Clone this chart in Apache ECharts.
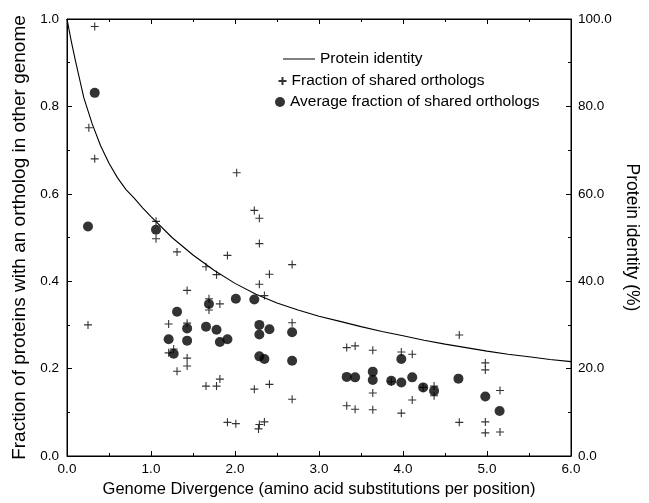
<!DOCTYPE html>
<html>
<head>
<meta charset="utf-8">
<script src="https://cdn.jsdelivr.net/npm/echarts@6/dist/echarts.min.js"></script>
<style>html,body{margin:0;background:#fff}</style>
</head>
<body>
<div id="main" style="width:649px;height:503px"></div>
<script>
// protein identity curve (divergence, %)
const curveDiv = [0, 0.05, 0.1, 0.2, 0.3, 0.4, 0.5, 0.6, 0.7, 0.8, 0.9, 1.0,
  1.25, 1.5, 1.75, 2.0, 2.25, 2.5, 2.75, 3.0, 3.25, 3.5, 3.75, 4.0,
  4.25, 4.5, 4.75, 5.0, 5.25, 5.5, 5.75, 6.0];
const curveIdentity = [100, 95, 90.5, 82, 76, 71, 67, 63.7, 61, 59, 56.8, 54.8,
  50, 46, 42.5, 39.5, 37, 35, 33.4, 32, 30.8, 29.6, 28.5, 27.5,
  26.5, 25.6, 24.8, 24, 23.3, 22.7, 22.1, 21.6];

// fraction of shared orthologs (crosses)
const crossDiv = [0.33, 0.26, 0.33, 0.25, 1.06, 1.06,
  1.31, 1.21, 1.21, 1.27, 1.31, 1.43, 1.43, 1.43, 1.43,
  1.655, 1.69, 1.69, 1.655, 1.78, 1.82, 1.82, 1.78,
  1.91, 1.91, 2.01, 2.02, 2.23, 2.29, 2.29, 2.29, 2.35, 2.41, 2.41, 2.23, 2.35, 2.29, 2.28,
  2.68, 2.68, 2.68,
  3.33, 3.43, 3.64, 3.98, 4.11, 4.67, 4.98, 4.98,
  3.86, 4.24, 4.37, 4.37, 5.155, 3.64, 4.11,
  3.33, 3.43, 3.64, 3.98, 4.67, 4.98, 4.98, 5.155];
const crossFrac = [0.983, 0.751, 0.680, 0.300, 0.537, 0.497,
  0.467, 0.302, 0.236, 0.245, 0.194, 0.379, 0.304, 0.224, 0.206,
  0.433, 0.360, 0.334, 0.160, 0.415, 0.348, 0.176, 0.160,
  0.459, 0.077, 0.074, 0.648, 0.562, 0.544, 0.486, 0.393, 0.367, 0.416, 0.164, 0.153, 0.078, 0.072, 0.062,
  0.438, 0.305, 0.130,
  0.248, 0.252, 0.242, 0.238, 0.233, 0.277, 0.213, 0.197,
  0.170, 0.157, 0.160, 0.138, 0.150, 0.144, 0.128,
  0.115, 0.107, 0.106, 0.098, 0.077, 0.078, 0.053, 0.055];

// average fraction of shared orthologs (dots)
const avgDiv = [0.33, 0.25, 1.06,
  1.31, 1.21, 1.27, 1.43, 1.43,
  1.69, 1.655, 1.78, 1.82, 1.91,
  2.01, 2.23, 2.29, 2.29, 2.41, 2.29, 2.35,
  2.68, 2.68,
  3.33, 3.43, 3.64, 3.64, 3.86, 3.98, 3.98, 4.11, 4.24, 4.37, 4.66, 4.98, 5.15];
const avgFrac = [0.831, 0.525, 0.518,
  0.330, 0.267, 0.234, 0.292, 0.264,
  0.348, 0.296, 0.289, 0.261, 0.267,
  0.360, 0.358, 0.300, 0.278, 0.290, 0.228, 0.222,
  0.283, 0.218,
  0.181, 0.180, 0.193, 0.174, 0.172, 0.222, 0.168, 0.180, 0.157, 0.149, 0.177, 0.136, 0.103];

const font = 'Liberation Sans, Arial, sans-serif';
const zip = (a, b) => a.map((v, i) => [v, b[i]]);
const crossIcon = 'path://M0,5L10,5M5,0L5,10';

const axisBase = {
  axisLine: {show: true, onZero: false, lineStyle: {color: '#000', width: 1}},
  axisTick: {show: true, inside: true, length: 5, lineStyle: {color: '#000'}},
  minorTick: {show: true, splitNumber: 2, length: 3, lineStyle: {color: '#000'}},
  splitLine: {show: false},
  axisLabel: {color: '#000', fontFamily: font, fontSize: 13.5},
  nameTextStyle: {color: '#000', fontFamily: font, fontSize: 16.5}
};
const legendText = {fontFamily: font, fontSize: 15.5, color: '#000'};

const chart = echarts.init(document.getElementById('main'));
chart.setOption({
  animation: false,
  backgroundColor: '#fff',
  grid: {left: 67, right: 78, top: 19, bottom: 44, show: true,
         borderColor: '#000', borderWidth: 1, backgroundColor: 'transparent'},
  legend: [
    {data: ['Protein identity'], left: 278, top: 46, icon: 'rect', itemWidth: 32, itemHeight: 1,
     textStyle: legendText},
    {data: ['Fraction of shared orthologs'], left: 271, top: 68, itemWidth: 8, itemHeight: 8,
     textStyle: legendText},
    {data: ['Average fraction of shared orthologs'], left: 270, top: 89, itemWidth: 10, itemHeight: 10,
     textStyle: legendText}
  ],
  xAxis: [
    Object.assign({}, axisBase, {
      type: 'value', min: 0, max: 6, interval: 1,
      name: 'Genome Divergence (amino acid substitutions per position)',
      nameLocation: 'middle', nameGap: 25,
      axisLabel: Object.assign({}, axisBase.axisLabel, {margin: 6, formatter: v => v.toFixed(1)})
    }),
    Object.assign({}, axisBase, {
      type: 'value', min: 0, max: 6, interval: 1, position: 'top',
      axisLabel: {show: false}
    })
  ],
  yAxis: [
    Object.assign({}, axisBase, {
      type: 'value', min: 0, max: 1, interval: 0.2,
      name: 'Fraction of proteins with an ortholog in other genome',
      nameLocation: 'middle', nameGap: 34,
      nameTextStyle: Object.assign({}, axisBase.nameTextStyle, {fontSize: 19}),
      axisLabel: Object.assign({}, axisBase.axisLabel, {margin: 8, formatter: v => v.toFixed(1)})
    }),
    Object.assign({}, axisBase, {
      type: 'value', min: 0, max: 100, interval: 20, position: 'right',
      name: 'Protein identity (%)',
      nameLocation: 'middle', nameGap: 50, nameRotate: -90,
      nameTextStyle: Object.assign({}, axisBase.nameTextStyle, {fontSize: 17.5}),
      axisLabel: Object.assign({}, axisBase.axisLabel, {margin: 7, formatter: v => v.toFixed(1)})
    })
  ],
  series: [
    {
      name: 'Protein identity', type: 'line', yAxisIndex: 1,
      data: zip(curveDiv, curveIdentity),
      smooth: false, showSymbol: false, symbol: 'none',
      lineStyle: {color: '#000', width: 1.1}, itemStyle: {color: '#000'}
    },
    {
      name: 'Fraction of shared orthologs', type: 'scatter',
      data: zip(crossDiv, crossFrac),
      symbol: crossIcon, symbolSize: 8,
      itemStyle: {color: 'none', borderColor: '#000', borderWidth: 1.1}
    },
    {
      name: 'Average fraction of shared orthologs', type: 'scatter',
      data: zip(avgDiv, avgFrac),
      symbol: 'circle', symbolSize: 10,
      itemStyle: {color: '#000'}
    }
  ]
});
</script>
</body>
</html>
